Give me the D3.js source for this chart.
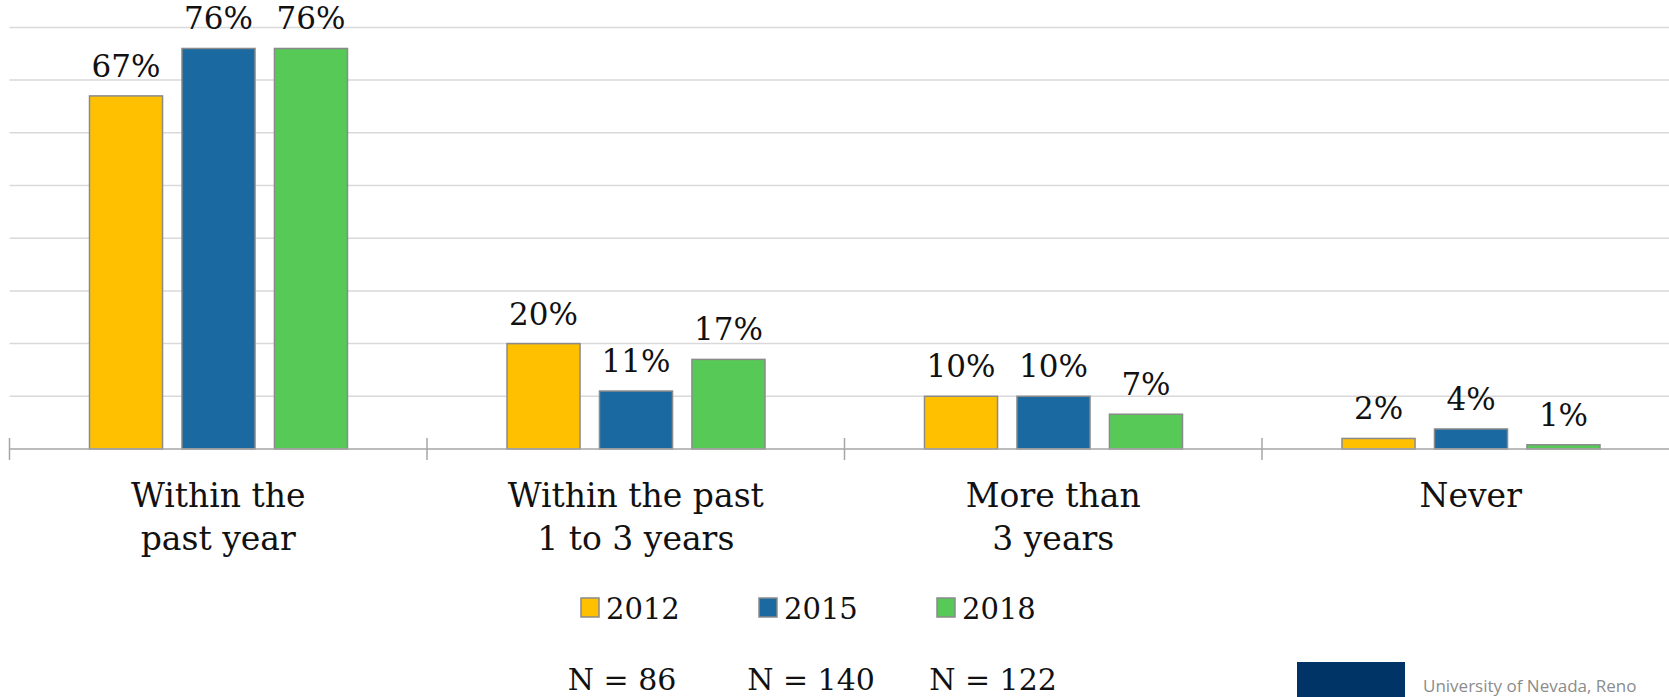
<!DOCTYPE html>
<html>
<head>
<meta charset="utf-8">
<script src="https://cdn.jsdelivr.net/npm/d3@7"></script>
<style>
  html, body { margin: 0; padding: 0; background: #fff; overflow: hidden; }
  svg { display: block; font-family: "DejaVu Serif", Georgia, serif; }
</style>
</head>
<body>
<script>
// data
const categories = [["Within the", "past year"], ["Within the past", "1 to 3 years"], ["More than", "3 years"], ["Never"]];
const years = ["2012", "2015", "2018"];
const sampleSizes = ["N = 86", "N = 140", "N = 122"];
const values2012 = [67, 20, 10, 2];
const values2015 = [76, 11, 10, 3.8];
const values2018 = [76, 17, 6.6, 0.8];
const yTicks = [0, 10, 20, 30, 40, 50, 60, 70, 80];

const colors = ["#ffc000", "#1a69a1", "#57c957"];
const series = [values2012, values2015, values2018];

const width = 1669, height = 697;
const svg = d3.select("body").append("svg").attr("width", width).attr("height", height);

const catKeys = categories.map(c => c.join(" "));
const x = d3.scaleBand().domain(catKeys).range([9.5, 9.5 + 4 * 417.5]).padding(0);
const xInner = d3.scaleBand().domain(years).range([80, 338]).paddingInner(0.21).paddingOuter(0);
const y = d3.scaleLinear().domain([0, 80]).range([449, 27.4]);

// gridlines
svg.append("g").selectAll("line")
    .data(yTicks.slice(1))
    .enter()
    .append("line")
    .attr("x1", 9.5).attr("x2", width)
    .attr("y1", d => y(d)).attr("y2", d => y(d))
    .attr("stroke", "#d9d9d9")
    .attr("stroke-width", 1.5);

// bars
const groups = svg.append("g").selectAll("g")
    .data(catKeys)
    .enter()
    .append("g")
    .attr("transform", d => `translate(${x(d)},0)`);

groups.selectAll("rect")
    .data((d, i) => years.map((yr, j) => ({ yr, v: series[j][i], c: colors[j] })))
    .enter()
    .append("rect")
    .attr("x", d => xInner(d.yr))
    .attr("y", d => y(d.v))
    .attr("width", xInner.bandwidth())
    .attr("height", d => y(0) - y(d.v))
    .attr("fill", d => d.c)
    .attr("stroke", "#8a8a8a")
    .attr("stroke-width", 1.5);

groups.selectAll("text.val")
    .data((d, i) => years.map((yr, j) => ({ yr, v: series[j][i] })))
    .enter()
    .append("text")
    .attr("class", "val")
    .attr("x", d => xInner(d.yr) + xInner.bandwidth() / 2)
    .attr("y", d => y(d.v) - 19)
    .attr("text-anchor", "middle")
    .attr("font-size", 31)
    .attr("fill", "#111")
    .text(d => Math.round(d.v) + "%");

// axis line and ticks
svg.append("line")
    .attr("x1", 9.5).attr("x2", width)
    .attr("y1", y(0)).attr("y2", y(0))
    .attr("stroke", "#a6a6a6").attr("stroke-width", 1.5);

svg.append("g").selectAll("line")
    .data(catKeys)
    .enter()
    .append("line")
    .attr("x1", d => x(d)).attr("x2", d => x(d))
    .attr("y1", 438).attr("y2", 460)
    .attr("stroke", "#a6a6a6").attr("stroke-width", 1.5);

// category labels
groups.append("text")
    .attr("text-anchor", "middle")
    .attr("font-size", 33)
    .attr("fill", "#111")
    .selectAll("tspan")
    .data((d, i) => categories[i])
    .enter()
    .append("tspan")
    .attr("x", x.bandwidth() / 2)
    .attr("y", (d, i) => 507 + i * 43)
    .text(d => d);

// legend
const legendX = d3.scaleOrdinal().domain(years).range([581, 759, 937]);
const legend = svg.append("g").selectAll("g")
    .data(years)
    .enter()
    .append("g")
    .attr("transform", d => `translate(${legendX(d)},598)`);

legend.append("rect")
    .attr("width", 18).attr("height", 19)
    .attr("fill", (d, i) => colors[i])
    .attr("stroke", "#8a8a8a").attr("stroke-width", 1.5);

legend.append("text")
    .attr("x", 25).attr("y", 21)
    .attr("font-size", 29)
    .attr("fill", "#111")
    .text(d => d);

// sample sizes
const nX = d3.scaleOrdinal().domain(sampleSizes).range([622, 811, 993]);
svg.append("g").selectAll("text")
    .data(sampleSizes)
    .enter()
    .append("text")
    .attr("x", d => nX(d))
    .attr("y", 690)
    .attr("text-anchor", "middle")
    .attr("font-size", 30)
    .attr("fill", "#111")
    .text(d => d);

// logo at the bottom right
svg.append("rect")
    .attr("x", 1297).attr("y", 662)
    .attr("width", 108).attr("height", 40)
    .attr("fill", "#003366");

svg.append("text")
    .attr("x", 1423).attr("y", 692)
    .attr("font-family", "'Open Sans', sans-serif")
    .attr("font-size", 17)
    .attr("fill", "#8c8c8c")
    .text("University of Nevada, Reno");
</script>
</body>
</html>
